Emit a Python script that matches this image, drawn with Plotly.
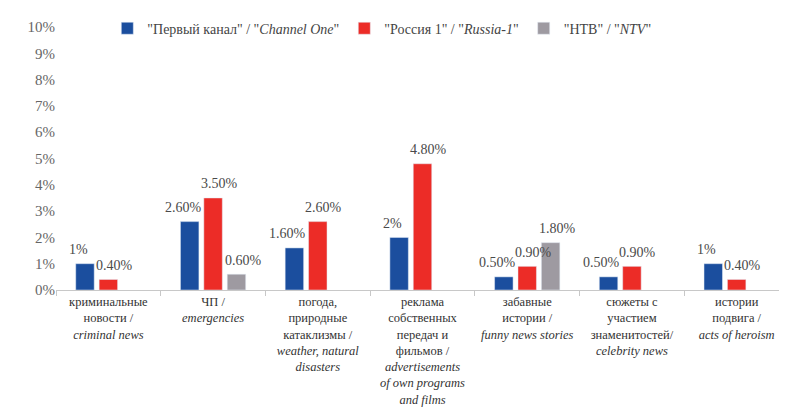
import plotly.graph_objects as go

categories = [
    "криминальные<br>новости /<br><i>criminal news</i>",
    "ЧП /<br><i>emergencies</i>",
    "погода,<br>природные<br>катаклизмы /<br><i>weather, natural<br>disasters</i>",
    "реклама<br>собственных<br>передач и<br>фильмов /<br><i>advertisements<br>of own programs<br>and films</i>",
    "забавные<br>истории /<br><i>funny news stories</i>",
    "сюжеты с<br>участием<br>знаменитостей/<br><i>celebrity news</i>",
    "истории<br>подвига /<br><i>acts of heroism</i>",
]
series_names = [
    '"Первый канал" / "<i>Channel One</i>"',
    '"Россия 1" / "<i>Russia-1</i>"',
    '"НТВ" / "<i>NTV</i>"',
]
channel_one = [1.0, 2.6, 1.6, 2.0, 0.5, 0.5, 1.0]
russia_1 = [0.4, 3.5, 2.6, 4.8, 0.9, 0.9, 0.4]
ntv = [None, 0.6, None, None, 1.8, None, None]
y_ticks = list(range(0, 11))

colors = ["#1B4E9E", "#EC2C27", "#9E9AA1"]
FONT = '"Liberation Serif", "DejaVu Serif", serif'
# horizontal offset (px) of each series' value label from the category centre
label_xshift = [-30, 6, 30]


def fmt(v):
    if float(v).is_integer():
        return f"{int(v)}%"
    return f"{v:.2f}%"


fig = go.Figure()
for name, vals, col in zip(series_names, [channel_one, russia_1, ntv], colors):
    fig.add_trace(go.Bar(x=categories, y=vals, name=name, marker_color=col))

for vals, xs in zip([channel_one, russia_1, ntv], label_xshift):
    for cat, v in zip(categories, vals):
        if v is None:
            continue
        fig.add_annotation(x=cat, y=v, text=fmt(v), showarrow=False,
                           xref="x", yref="y", xanchor="center", yanchor="middle",
                           xshift=xs, yshift=14,
                           font=dict(family=FONT, size=14, color="#4a4a4a"))

fig.update_layout(
    width=787, height=412,
    margin=dict(l=48, r=6, t=18, b=130),
    paper_bgcolor="white", plot_bgcolor="white",
    barmode="group", bargap=0.33, bargroupgap=0.21,
    font=dict(family=FONT, size=12.5, color="#333"),
    showlegend=True,
    legend=dict(orientation="h", x=0.07, y=0.99, xanchor="left", yanchor="middle",
                font=dict(family=FONT, size=14, color="#444"),
                bgcolor="rgba(0,0,0,0)", itemwidth=30),
    xaxis=dict(showline=True, linecolor="#c8c8c8", linewidth=1,
               ticks="outside", tickson="boundaries", ticklen=5, tickcolor="#c8c8c8",
               tickfont=dict(family=FONT, size=12.5, color="#333"), tickangle=0,
               automargin=False),
    yaxis=dict(range=[0, 10], tickvals=y_ticks, ticktext=[f"{t}%" for t in y_ticks],
               showgrid=False, zeroline=False, showline=False, automargin=False,
               tickfont=dict(family=FONT, size=15, color="#666")),
)

fig.write_html("out.html")
